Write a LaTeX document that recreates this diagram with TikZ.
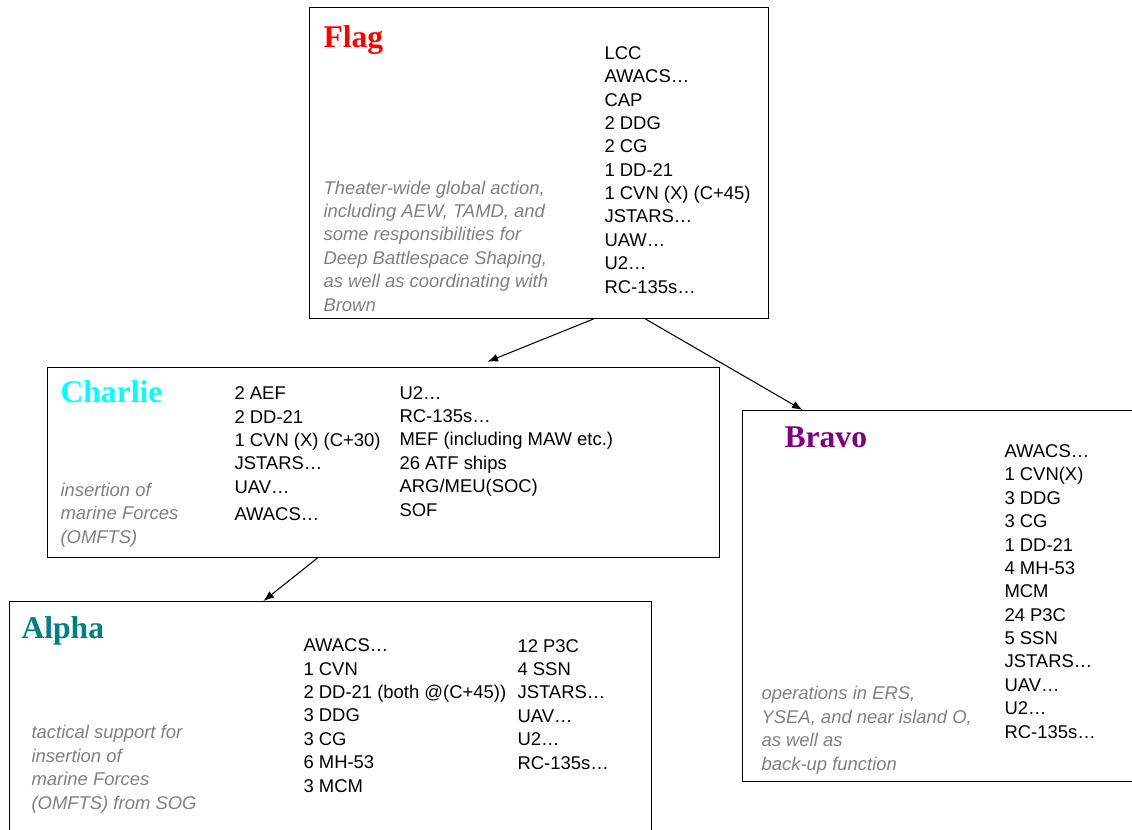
\documentclass[tikz,border=0pt]{standalone}
\usepackage{fontspec}
\setmainfont{Liberation Sans}
\newfontfamily\titlefont{Liberation Serif}
\usetikzlibrary{arrows.meta}
\definecolor{flagred}{RGB}{255,0,0}
\definecolor{charliecyan}{RGB}{0,255,255}
\definecolor{alphateal}{RGB}{0,128,128}
\definecolor{bravopurple}{RGB}{128,0,128}
\definecolor{notegray}{RGB}{128,128,128}

\begin{document}
\begin{tikzpicture}
	[x=0.02cm,y=-0.02cm,line width=0.6pt,>={Latex[length=6pt,width=4.5pt]},
	 box/.style={draw,rectangle,anchor=north west,inner sep=0},
	 head/.style={anchor=base west,inner sep=0,font=\titlefont\fontsize{18}{20}\selectfont\bfseries},
	 list/.style={anchor=base west,inner sep=0,align=left,font=\fontsize{10.5}{13.3}\selectfont},
	 note/.style={list,text=notegray,font=\fontsize{10.5}{13.3}\selectfont\itshape}]
	\useasboundingbox (0,0) rectangle (1132,829);
	\clip (0,0) rectangle (1132,829);
	% boxes
	\node[box,minimum width=9.18cm,minimum height=6.22cm,name=flag] at (309,7) {};
	\node[box,minimum width=13.44cm,minimum height=3.8cm,name=charlie] at (47,367) {};
	\node[box,minimum width=8.16cm,minimum height=7.42cm,name=bravo] at (742,410) {};
	\node[box,minimum width=12.84cm,minimum height=4.9cm,name=alpha] at (9,601) {};
	% Flag (lists placed at the baseline of their last line)
	\node[head,text=flagred,name=flagtitle] at (323,47) {Flag};
	\node[list,name=flaglist] at (604,293) {LCC\\AWACS…\\CAP\\2 DDG\\2 CG\\1 DD-21\\1 CVN (X) (C+45)\\JSTARS…\\UAW…\\U2…\\RC-135s…};
	\node[note,name=flagnote] at (323,311) {Theater-wide global action,\\including AEW, TAMD, and\\some responsibilities for\\Deep Battlespace Shaping,\\as well as coordinating with\\Brown};
	% Charlie
	\node[head,text=charliecyan,name=charlietitle] at (60,402) {Charlie};
	\node[list,name=charlielista] at (234,520) {2 AEF\\2 DD-21\\1 CVN (X) (C+30)\\JSTARS…\\UAV…\\[2pt]AWACS…};
	\node[list,name=charlielistb] at (399,516) {U2…\\RC-135s…\\MEF (including MAW etc.)\\26 ATF ships\\ARG/MEU(SOC)\\SOF};
	\node[note,name=charlienote] at (60,543) {insertion of\\marine Forces\\(OMFTS)};
	% Bravo
	\node[head,text=bravopurple,name=bravotitle] at (784,447) {Bravo};
	\node[list,name=bravolist] at (1004,738) {AWACS…\\1 CVN(X)\\3 DDG\\3 CG\\1 DD-21\\4 MH-53\\MCM\\24 P3C\\5 SSN\\JSTARS…\\UAV…\\U2…\\RC-135s…};
	\node[note,name=bravonote] at (761,770) {operations in ERS,\\YSEA, and near island O,\\as well as\\back-up function};
	% Alpha
	\node[head,text=alphateal,name=alphatitle] at (21,638) {Alpha};
	\node[list,name=alphalista] at (303,792) {AWACS…\\1 CVN\\2 DD-21 (both @(C+45))\\3 DDG\\3 CG\\6 MH-53\\3 MCM};
	\node[list,name=alphalistb] at (517,769) {12 P3C\\4 SSN\\JSTARS…\\UAV…\\U2…\\RC-135s…};
	\node[note,name=alphanote] at (31,809) {tactical support for\\insertion of\\marine Forces\\(OMFTS) from SOG};
	% links
	\draw[->]([xshift=1.09cm]flag.south) -- ([xshift=2.08cm,yshift=3pt]charlie.north);
	\draw[->]([xshift=2.13cm]flag.south) -- ([xshift=-2.88cm]bravo.north);
	\draw[->]([xshift=-1.32cm]charlie.south) -- ([xshift=-1.34cm]alpha.north);
\end{tikzpicture}
\end{document}
